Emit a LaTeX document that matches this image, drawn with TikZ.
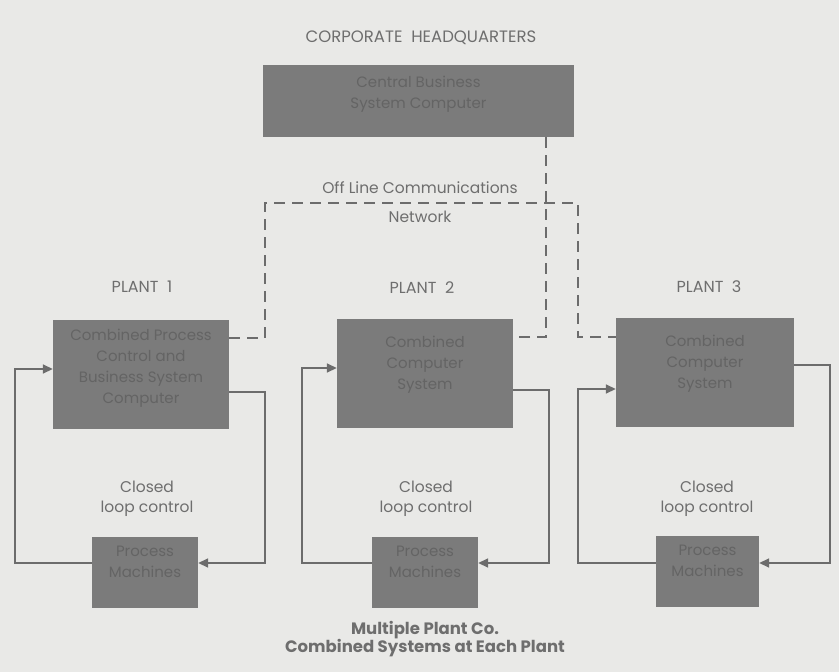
\documentclass[tikz,border=0pt]{standalone}
\usepackage{fontspec}
\setmainfont{Poppins}
\usetikzlibrary{arrows.meta}
\definecolor{paper}{HTML}{E9E9E7}
\definecolor{boxfill}{HTML}{7B7B7B}
\definecolor{boxink}{HTML}{646464}
\definecolor{ink}{HTML}{6E6E6E}
\definecolor{wire}{HTML}{6C6C6C}
% text block raised above the box centre, without changing the box size
\newcommand\lift[2][6pt]{\raisebox{#1}[0pt][0pt]{\begin{tabular}{@{}c@{}}#2\end{tabular}}}
\tikzset{
  unit/.style={fill=boxfill, draw=none, inner sep=0pt, text=boxink,
    font=\fontsize{15}{21}\selectfont},
  caption/.style={text=ink, align=center, inner sep=0pt},
  plantlabel/.style={caption, font=\fontsize{16}{18}\selectfont},
  looplabel/.style={caption, font=\fontsize{15.5}{20}\selectfont},
  netlabel/.style={caption, font=\fontsize{15.5}{18}\selectfont},
  net/.style={draw=wire, line width=1.5pt, dash pattern=on 11pt off 7pt},
  feedback/.style={draw=wire, line width=1.6pt, -{Triangle[length=10pt,width=9pt]}},
}
\begin{document}
\begin{tikzpicture}[x=1pt, y=-1pt]
  \fill[paper] (0,0) rectangle (839,672);
  \useasboundingbox (0,0) rectangle (839,672);

  % headquarters
  \node[caption, font=\fontsize{16.5}{18}\selectfont] (hqtitle) at (421,38) {CORPORATE\ \ HEADQUARTERS};
  \node[unit, minimum width=311pt, minimum height=72pt] (hq) at (418.5,101)
    {\lift[3.5pt]{Central Business\\System Computer}};

  % network label
  \node[netlabel] (nettop) at (420,188) {Off Line Communications};
  \node[netlabel] (netbot) at (420,217) {Network};

  % plant headings
  \node[plantlabel] (t1) at (142,287) {PLANT\ \ 1};
  \node[plantlabel] (t2) at (422,288) {PLANT\ \ 2};
  \node[plantlabel] (t3) at (709,287) {PLANT\ \ 3};

  % plant computers
  \node[unit, minimum width=176pt, minimum height=109pt] (p1) at (141,374.5)
    {\lift[3.5pt]{Combined Process\\Control and\\Business System\\Computer}};
  \node[unit, minimum width=176pt, minimum height=109pt] (p2) at (425,373.5)
    {\lift{Combined\\Computer\\System}};
  \node[unit, minimum width=178pt, minimum height=109pt] (p3) at (705,372.5)
    {\lift{Combined\\Computer\\System}};

  % process machines
  \node[unit, minimum width=106pt, minimum height=71pt] (m1) at (145,572.5)
    {\lift{Process\\Machines}};
  \node[unit, minimum width=106pt, minimum height=71pt] (m2) at (425,572.5)
    {\lift{Process\\Machines}};
  \node[unit, minimum width=103pt, minimum height=71pt] (m3) at (707.5,571.5)
    {\lift{Process\\Machines}};

  % loop labels
  \node[looplabel] (c1) at (147,499) {Closed\\loop control};
  \node[looplabel] (c2) at (426,499) {Closed\\loop control};
  \node[looplabel] (c3) at (707,499) {Closed\\loop control};

  % off line communications network
  \draw[net] ([xshift=-28pt]hq.south east) |- ([yshift=36.5pt]p2.east);
  \draw[net] ([yshift=36.5pt]p1.east) -- (265,338) |- (578,203)
             |- ([yshift=35.5pt]p3.west);

  % closed loops
  \draw[feedback] ([yshift=9.5pt]m1.west) -- (15,563) |- ([yshift=5.5pt]p1.west);
  \draw[feedback] ([yshift=-17.5pt]p1.east) -- (265,392) |- ([yshift=9.5pt]m1.east);

  \draw[feedback] ([yshift=9.5pt]m2.west) -- (302,563) |- ([yshift=5.5pt]p2.west);
  \draw[feedback] ([yshift=-16.5pt]p2.east) -- (549,390) |- ([yshift=9.5pt]m2.east);

  \draw[feedback] ([yshift=8.5pt]m3.west) -- (578,563) |- ([yshift=-16.5pt]p3.west);
  \draw[feedback] ([yshift=7.5pt]p3.east) -- (830,365) |- ([yshift=8.5pt]m3.east);

  % caption
  \node[caption, font=\bfseries\fontsize{16.5}{18.5}\selectfont] (cap) at (425,639)
    {Multiple Plant Co.\\Combined Systems at Each Plant};
\end{tikzpicture}
\end{document}
